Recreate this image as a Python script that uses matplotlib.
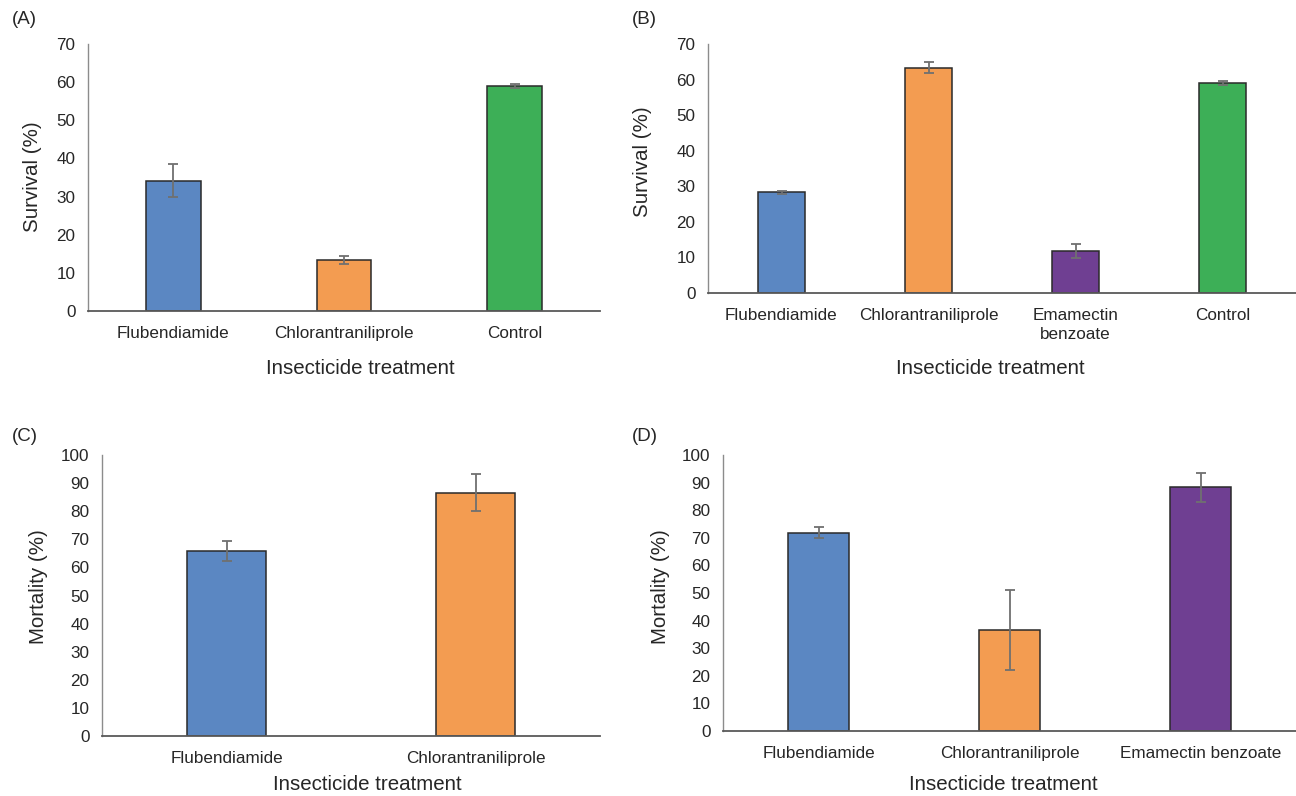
import numpy as np
import matplotlib
matplotlib.use('Agg')
import matplotlib.pyplot as plt

plt.rcParams['font.family'] = ['Liberation Sans', 'DejaVu Sans']

# colours per treatment
BLUE = '#5b87c2'
ORANGE = '#f39c51'
GREEN = '#3daf57'
PURPLE = '#6f3f92'

# (A) survival
a_labels = ['Flubendiamide', 'Chlorantraniliprole', 'Control']
a_vals = [34.2, 13.4, 59.0]
a_err = [4.4, 1.0, 0.5]
a_cols = [BLUE, ORANGE, GREEN]

# (B) survival
b_labels = ['Flubendiamide', 'Chlorantraniliprole', 'Emamectin\nbenzoate', 'Control']
b_vals = [28.3, 63.3, 11.7, 59.0]
b_err = [0.4, 1.5, 2.0, 0.5]
b_cols = [BLUE, ORANGE, PURPLE, GREEN]

# (C) mortality
c_labels = ['Flubendiamide', 'Chlorantraniliprole']
c_vals = [65.7, 86.6]
c_err = [3.6, 6.6]
c_cols = [BLUE, ORANGE]

# (D) mortality
d_labels = ['Flubendiamide', 'Chlorantraniliprole', 'Emamectin benzoate']
d_vals = [71.8, 36.7, 88.3]
d_err = [2.0, 14.5, 5.3]
d_cols = [BLUE, ORANGE, PURPLE]

W, H = 1296, 796
fig = plt.figure(figsize=(W / 100, H / 100), dpi=100)
TXT = '#262626'


def px_axes(x0, y0, x1, y1):
    # pixel box (left, top, right, bottom) -> figure fraction
    return fig.add_axes([x0 / W, 1 - y1 / H, (x1 - x0) / W, (y1 - y0) / H])


def bar_panel(ax, labels, vals, err, cols, ymax, step):
    x = np.arange(len(labels))
    ax.bar(x, vals, width=0.32, color=cols, edgecolor='#2a2a2a', linewidth=1.1, zorder=2)
    ax.errorbar(x, vals, yerr=err, fmt='none', ecolor='#707070', elinewidth=1.3,
                capsize=3.5, capthick=1.3, zorder=3)
    ax.set_xlim(-0.5, len(labels) - 0.5)
    ax.set_ylim(0, ymax)
    ax.set_yticks(np.arange(0, ymax + 1, step))
    ax.set_xticks(x)
    ax.set_xticklabels(labels, fontsize=12.3, color=TXT, linespacing=1.35)
    ax.tick_params(axis='both', length=0, labelsize=12.3, colors=TXT)
    ax.tick_params(axis='x', pad=11)
    ax.tick_params(axis='y', pad=9)
    for s in ['top', 'right']:
        ax.spines[s].set_visible(False)
    ax.spines['bottom'].set_color('#595959')
    ax.spines['bottom'].set_linewidth(1.3)
    ax.spines['left'].set_color('#8c8c8c')
    ax.spines['left'].set_linewidth(1.0)


axA = px_axes(88, 44, 600, 311)
bar_panel(axA, a_labels, a_vals, a_err, a_cols, 70, 10)
axB = px_axes(708, 44, 1296, 293)
bar_panel(axB, b_labels, b_vals, b_err, b_cols, 70, 10)
axC = px_axes(102, 455, 600, 736)
bar_panel(axC, c_labels, c_vals, c_err, c_cols, 100, 10)
axD = px_axes(723, 455, 1296, 731)
bar_panel(axD, d_labels, d_vals, d_err, d_cols, 100, 10)

# panel tags
for tag, x, y in [('(A)', 12, 20), ('(B)', 632, 20), ('(C)', 12, 436), ('(D)', 632, 436)]:
    fig.text(x / W, 1 - y / H, tag, fontsize=13.5, color=TXT, va='center', ha='left')

# axis titles
for txt, x, y in [('Insecticide treatment', 360, 368), ('Insecticide treatment', 990, 368),
                  ('Insecticide treatment', 367, 785), ('Insecticide treatment', 1003, 785)]:
    fig.text(x / W, 1 - y / H, txt, fontsize=14.8, color=TXT, ha='center', va='center')

for txt, x, y in [('Survival (%)', 32, 177), ('Survival (%)', 643, 162),
                  ('Mortality (%)', 39, 587), ('Mortality (%)', 660, 587)]:
    fig.text(x / W, 1 - y / H, txt, fontsize=14.8, color=TXT, ha='center', va='center',
             rotation=90)

fig.savefig('out.png', dpi=100)
